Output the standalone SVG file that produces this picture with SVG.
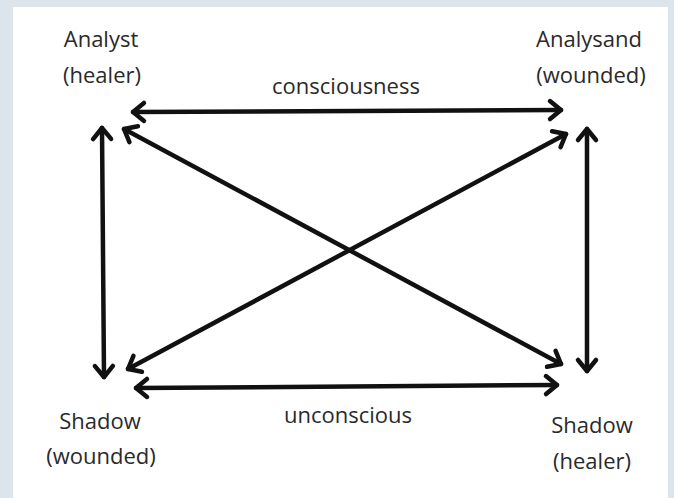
<svg xmlns="http://www.w3.org/2000/svg" width="674" height="498" viewBox="0 0 674 498">
<style>
.lbl{font-family:"Open Sans","DejaVu Sans",sans-serif;font-size:22px;fill:#2a2a2a;text-anchor:middle}
.c{stroke:#111;stroke-width:4.5;fill:none;stroke-linecap:round}
</style>
<defs>
<marker id="ah" markerUnits="userSpaceOnUse" markerWidth="30" markerHeight="30" viewBox="-16 -15 30 30" refX="0" refY="0" orient="auto-start-reverse">
<path d="M-11,-9 L0,0 L-11,9" fill="none" stroke="#111" stroke-width="4.5" stroke-linecap="round" stroke-linejoin="round"/>
</marker>
</defs>
<rect width="674" height="498" fill="#dce4ec"/>
<rect x="13" y="7" width="655" height="491" fill="#ffffff"/>
<g id="connectors">
<line class="c" x1="133" y1="112" x2="561" y2="110" marker-start="url(#ah)" marker-end="url(#ah)"/>
<line class="c" x1="136" y1="388" x2="557" y2="385" marker-start="url(#ah)" marker-end="url(#ah)"/>
<line class="c" x1="102" y1="128" x2="104" y2="377" marker-start="url(#ah)" marker-end="url(#ah)"/>
<line class="c" x1="587" y1="129" x2="587" y2="371" marker-start="url(#ah)" marker-end="url(#ah)"/>
<line class="c" x1="124" y1="129" x2="561" y2="364" marker-start="url(#ah)" marker-end="url(#ah)"/>
<line class="c" x1="128" y1="369" x2="566" y2="134" marker-start="url(#ah)" marker-end="url(#ah)"/>
</g>
<g id="analyst">
<text class="lbl" x="101" y="47">Analyst</text>
<text class="lbl" x="102" y="83">(healer)</text>
</g>
<g id="analysand">
<text class="lbl" x="589" y="47">Analysand</text>
<text class="lbl" x="591" y="83">(wounded)</text>
</g>
<g id="shadow-wounded">
<text class="lbl" x="100" y="429">Shadow</text>
<text class="lbl" x="101" y="464">(wounded)</text>
</g>
<g id="shadow-healer">
<text class="lbl" x="592" y="433">Shadow</text>
<text class="lbl" x="592" y="469">(healer)</text>
</g>
<g id="labels">
<text class="lbl" x="346" y="94">consciousness</text>
<text class="lbl" x="348" y="423">unconscious</text>
</g>
</svg>
